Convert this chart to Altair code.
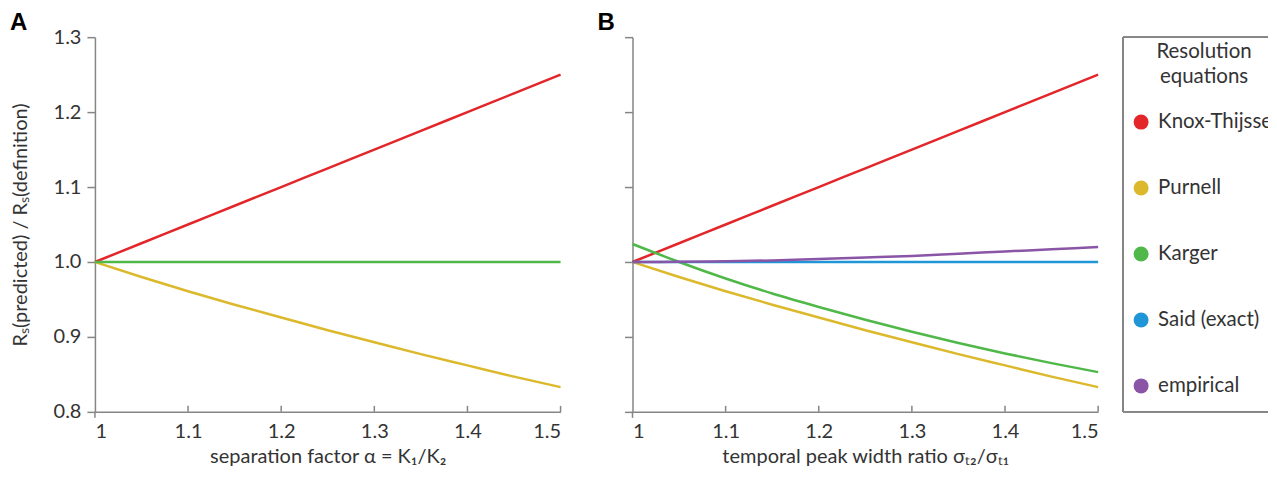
import altair as alt
import pandas as pd

# ---- data ----
x_vals = [1.0, 1.05, 1.1, 1.15, 1.2, 1.25, 1.3, 1.35, 1.4, 1.45, 1.5]

series_names = ["Knox-Thijssen", "Purnell", "Karger", "Said (exact)", "empirical"]
series_colors = ["#e2262a", "#dcb92c", "#4fb848", "#2196d6", "#8a55a6"]

# panel A (x = separation factor)
knox_a = [1.0, 1.025, 1.05, 1.075, 1.1, 1.125, 1.15, 1.175, 1.2, 1.225, 1.25]
purnell_a = [1.0, 0.980, 0.961, 0.943, 0.926, 0.909, 0.893, 0.877, 0.862, 0.847, 0.833]
karger_a = [1.0, 1.0, 1.0, 1.0, 1.0, 1.0, 1.0, 1.0, 1.0, 1.0, 1.0]

# panel B (x = temporal peak width ratio)
knox_b = [1.0, 1.025, 1.05, 1.075, 1.1, 1.125, 1.15, 1.175, 1.2, 1.225, 1.25]
purnell_b = [1.0, 0.980, 0.961, 0.943, 0.926, 0.909, 0.893, 0.877, 0.862, 0.847, 0.833]
karger_b = [1.024, 1.0, 0.978, 0.958, 0.940, 0.923, 0.907, 0.892, 0.878, 0.865, 0.853]
said_b = [1.0, 1.0, 1.0, 1.0, 1.0, 1.0, 1.0, 1.0, 1.0, 1.0, 1.0]
empirical_b = [1.0, 1.0002, 1.001, 1.002, 1.004, 1.006, 1.008, 1.011, 1.014, 1.017, 1.02]

x_ticks = [1.0, 1.1, 1.2, 1.3, 1.4, 1.5]
y_ticks = [0.8, 0.9, 1.0, 1.1, 1.2, 1.3]
panel_labels = ["A", "B"]

x_title_a = "separation factor α = K₁/K₂"
x_title_b = "temporal peak width ratio σₜ₂/σₜ₁"
y_title = "Rₛ(predicted) / Rₛ(definition)"
legend_title = "Resolution\nequations"

# ---- tables ----
def table(pairs):
    rows = []
    for name, vals in pairs:
        for x, y in zip(x_vals, vals):
            rows.append({"x": x, "y": y, "series": name})
    return pd.DataFrame(rows)

df_a = table([("Knox-Thijssen", knox_a), ("Purnell", purnell_a), ("Karger", karger_a)])
df_b = table([("Knox-Thijssen", knox_b), ("Purnell", purnell_b), ("Karger", karger_b),
              ("Said (exact)", said_b), ("empirical", empirical_b)])
df_leg = pd.DataFrame({"series": series_names})

FONT = "Lato"
TXT = "#333333"
AX = "#858585"
W, H = 466, 375
LW = 145
FS = 20.5

xscale = alt.Scale(domain=[x_ticks[0], x_ticks[-1]], nice=False, zero=False)
yscale = alt.Scale(domain=[y_ticks[0], y_ticks[-1]], nice=False, zero=False)
cscale = alt.Scale(domain=series_names, range=series_colors)


def panel(df, x_title, label, show_y_labels):
    yaxis = alt.Axis(values=y_ticks, format=".1f", labels=show_y_labels,
                     title=y_title if show_y_labels else None, tickSize=8,
                     labelPadding=6, titlePadding=23)
    xaxis = alt.Axis(values=x_ticks, ticks=False, labelPadding=10, titlePadding=5,
                     labelExpr="datum.value == 1 ? '1' : format(datum.value, '.1f')",
                     title=x_title)
    lines = alt.Chart(df).mark_line(strokeWidth=2.5, interpolate="monotone").encode(
        x=alt.X("x:Q", scale=xscale, axis=xaxis),
        y=alt.Y("y:Q", scale=yscale, axis=yaxis),
        color=alt.Color("series:N", scale=cscale, legend=None),
        detail="series:N",
    )
    inner_ticks = alt.Chart(pd.DataFrame({"x": x_ticks[1:]})).mark_rule(color=AX, strokeWidth=1.5).encode(
        x=alt.X("x:Q", scale=xscale), y=alt.value(H), y2=alt.value(H - 6))
    first_tick = alt.Chart(pd.DataFrame({"x": x_ticks[:1]})).mark_rule(color=AX, strokeWidth=1.5).encode(
        x=alt.X("x:Q", scale=xscale), y=alt.value(H), y2=alt.value(H + 6))
    lab = alt.Chart(pd.DataFrame({"t": [label]})).mark_text(
        font="Liberation Sans", fontWeight="bold", fontSize=24, align="left",
        baseline="alphabetic", color="#000000").encode(
        text="t:N", x=alt.value(-85 if show_y_labels else -35), y=alt.value(-7))
    return alt.layer(lines, inner_ticks, first_tick, lab).properties(width=W, height=H)


# ---- legend panel (box clipped at the right edge as in the reference) ----
leg_y = alt.Y("series:N", scale=alt.Scale(domain=series_names, range=[85, 349], padding=0), axis=None)
box_left = alt.Chart(df_leg).mark_rule(color=AX, strokeWidth=1.5).encode(
    x=alt.value(0), y=alt.value(0), y2=alt.value(H))
box_top = alt.Chart(df_leg).mark_rule(color=AX, strokeWidth=1.5).encode(
    x=alt.value(0), x2=alt.value(LW), y=alt.value(0))
box_bottom = alt.Chart(df_leg).mark_rule(color=AX, strokeWidth=1.5).encode(
    x=alt.value(0), x2=alt.value(LW), y=alt.value(H))
leg_title = alt.Chart(pd.DataFrame({"t": [legend_title]})).mark_text(
    font=FONT, fontSize=FS, color=TXT, align="center", baseline="alphabetic",
    lineBreak="\n", lineHeight=25).encode(text="t:N", x=alt.value(81), y=alt.value(21))
leg_dots = alt.Chart(df_leg).mark_circle(size=225, opacity=1).encode(
    x=alt.value(18), y=leg_y, color=alt.Color("series:N", scale=cscale, legend=None))
leg_labels = alt.Chart(df_leg).mark_text(
    font=FONT, fontSize=FS, color=TXT, align="left", baseline="middle", clip=True).encode(
    x=alt.value(35), y=leg_y, text="series:N")
legend_panel = alt.layer(box_left, box_top, box_bottom, leg_title, leg_dots, leg_labels).properties(
    width=LW, height=H)

plots = alt.hconcat(
    panel(df_a, x_title_a, panel_labels[0], True),
    panel(df_b, x_title_b, panel_labels[1], False),
    spacing=72,
    bounds="flush",
)

chart = alt.hconcat(
    plots, legend_panel, spacing=19,
).resolve_scale(color="shared").properties(
    padding={"left": 2, "top": 3, "right": 0, "bottom": 0}
).configure_view(stroke=None).configure_axis(
    labelFont=FONT, titleFont=FONT, labelFontSize=20, titleFontSize=20,
    labelColor=TXT, titleColor=TXT, titleFontWeight="normal",
    domainColor=AX, tickColor=AX, domainWidth=1.5, tickWidth=1.5, grid=False,
)

chart.save("out.html", embed_options={"renderer": "svg", "actions": False})
